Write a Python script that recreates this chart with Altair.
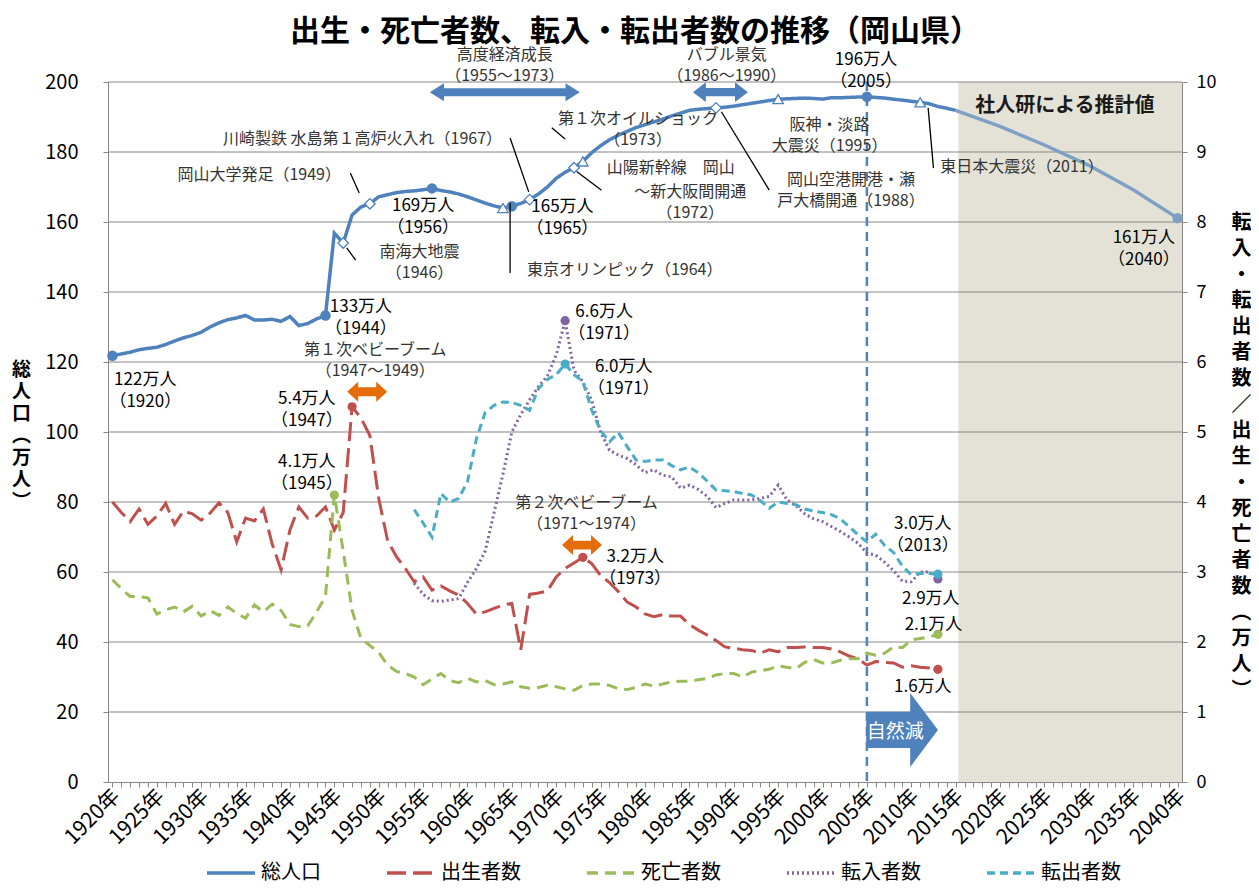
import altair as alt
import pandas as pd

FONT = "Noto Sans CJK JP"
GRAY = "#868686"

# ---------------- data ----------------
SERIES = ["総人口", "出生者数", "死亡者数", "転入者数", "転出者数"]
COLORS = ["#4F81BD", "#C0504D", "#9BBB59", "#8064A2", "#4BACC6"]
DASHES = [[1, 0], [19, 7], [11, 7], [2, 3], [8, 5]]

POP_YEARS = list(range(1920, 2016))
POP = [121.8, 122.3, 122.8, 123.5, 123.9, 124.2, 125.0, 126.0, 126.9, 127.6,
       128.5, 130.0, 131.2, 132.1, 132.6, 133.3, 132.0, 132.0, 132.2, 131.6,
       133.0, 130.4, 131.0, 132.3, 133.3, 156.8, 154.0, 162.0, 164.3, 165.2,
       167.2, 167.8, 168.4, 168.7, 168.9, 169.2, 169.6, 169.0, 168.6, 168.0,
       167.2, 166.3, 165.4, 164.6, 164.0, 164.5, 165.3, 166.4, 168.0, 170.0,
       172.5, 174.2, 175.5, 177.3, 179.8, 181.8, 183.5, 184.8, 185.9, 187.0,
       187.8, 188.6, 189.4, 190.3, 191.1, 191.9, 192.2, 192.4, 192.6, 192.8,
       193.1, 193.5, 193.9, 194.3, 194.7, 195.1, 195.2, 195.3, 195.4, 195.3,
       195.1, 195.5, 195.5, 195.6, 195.7, 195.8, 195.6, 195.4, 195.1, 194.8,
       194.5, 194.2, 193.8, 193.0, 192.5, 191.9]
PROJ_YEARS = [2015, 2020, 2025, 2030, 2035, 2040]
PROJ_POP = [191.9, 187.3, 182.0, 176.2, 169.2, 161.1]
PROJ_START = 2015.3

VITAL_YEARS = list(range(1920, 2014))
BIRTHS = [4.00, 3.85, 3.72, 3.90, 3.68, 3.80, 3.98, 3.68, 3.87, 3.83,
          3.74, 3.84, 3.99, 3.85, 3.43, 3.77, 3.73, 3.90, 3.40, 3.03,
          3.60, 3.93, 3.77, 3.80, 3.93, 3.60, 3.85, 5.36, 5.20, 4.95,
          4.05, 3.45, 3.22, 3.05, 2.86, 2.93, 2.74, 2.80, 2.73, 2.67,
          2.55, 2.40, 2.43, 2.48, 2.53, 2.55, 1.89, 2.68, 2.70, 2.73,
          2.93, 3.05, 3.13, 3.21, 3.12, 2.95, 2.85, 2.72, 2.57, 2.50,
          2.40, 2.36, 2.39, 2.37, 2.37, 2.25, 2.17, 2.10, 2.02, 1.93,
          1.91, 1.89, 1.88, 1.84, 1.89, 1.86, 1.92, 1.92, 1.93, 1.92,
          1.92, 1.90, 1.86, 1.80, 1.76, 1.67, 1.72, 1.71, 1.70, 1.64,
          1.66, 1.64, 1.63, 1.61]
DEATHS = [2.89, 2.76, 2.65, 2.65, 2.63, 2.40, 2.46, 2.50, 2.43, 2.51,
          2.37, 2.45, 2.38, 2.50, 2.41, 2.34, 2.53, 2.43, 2.54, 2.45,
          2.25, 2.22, 2.23, 2.43, 2.65, 4.10, 3.30, 2.45, 2.05, 1.95,
          1.85, 1.67, 1.58, 1.55, 1.50, 1.39, 1.47, 1.55, 1.45, 1.42,
          1.48, 1.43, 1.45, 1.39, 1.40, 1.43, 1.36, 1.34, 1.35, 1.38,
          1.36, 1.33, 1.31, 1.38, 1.40, 1.40, 1.38, 1.33, 1.32, 1.35,
          1.40, 1.37, 1.40, 1.43, 1.44, 1.44, 1.46, 1.48, 1.53, 1.55,
          1.55, 1.50, 1.57, 1.59, 1.61, 1.66, 1.64, 1.62, 1.71, 1.75,
          1.70, 1.70, 1.74, 1.76, 1.76, 1.84, 1.81, 1.84, 1.93, 1.92,
          2.03, 2.05, 2.07, 2.11]
MIG_YEARS = list(range(1954, 2014))
IN_MIG = [2.84, 2.68, 2.59, 2.58, 2.60, 2.62, 2.85, 3.05, 3.30, 3.85,
          4.40, 5.00, 5.25, 5.46, 5.65, 5.80, 6.10, 6.59, 5.88, 5.72,
          5.45, 5.00, 4.74, 4.67, 4.62, 4.53, 4.42, 4.46, 4.38, 4.36,
          4.20, 4.24, 4.18, 4.08, 3.92, 3.98, 4.03, 4.03, 4.03, 4.05,
          4.08, 4.24, 4.03, 3.95, 3.83, 3.76, 3.72, 3.65, 3.58, 3.50,
          3.41, 3.27, 3.24, 3.14, 3.02, 2.87, 2.86, 3.00, 3.00, 2.90]
OUT_MIG = [3.89, 3.70, 3.50, 4.12, 4.00, 4.05, 4.29, 4.90, 5.28, 5.38,
           5.43, 5.42, 5.38, 5.31, 5.62, 5.75, 5.82, 5.97, 5.82, 5.72,
           5.31, 5.02, 4.86, 4.99, 4.79, 4.60, 4.58, 4.60, 4.60, 4.52,
           4.46, 4.50, 4.42, 4.30, 4.17, 4.16, 4.15, 4.12, 4.10, 4.02,
           3.91, 4.00, 3.98, 3.96, 3.90, 3.87, 3.85, 3.82, 3.76, 3.65,
           3.53, 3.43, 3.54, 3.38, 3.28, 3.08, 2.96, 2.98, 2.98, 2.97]

LEFT_TICKS = list(range(0, 201, 20))
RIGHT_TICKS = list(range(0, 11))
YEAR_TICKS = list(range(1920, 2041))

POP_DOT_YEARS = [1920, 1944, 1956, 1965, 2005]
DIAMOND_YEARS = [1946, 1949, 1967, 1972, 1988]
TRIANGLE_YEARS = [1964, 1973, 1995, 2011]
PEAK_YEARS = {"出生者数": [1947, 1973, 2013], "死亡者数": [1945, 2013],
              "転入者数": [1971, 2013], "転出者数": [1971, 2013]}
VLINE_YEAR = [2005]

# annotation texts (year, value of the first line on the 総人口 scale)
LABELS_DATA = [
    ("122万人\n（1920）", 1923.7, 115.0),
    ("133万人\n（1944）", 1948.0, 135.8),
    ("169万人\n（1956）", 1955.0, 164.7),
    ("165万人\n（1965）", 1970.7, 164.4),
    ("196万人\n（2005）", 2004.9, 206.3),
    ("161万人\n（2040）", 2036.2, 155.3),
    ("5.4万人\n（1947）", 1941.9, 109.4),
    ("4.1万人\n（1945）", 1941.9, 91.5),
    ("6.6万人\n（1971）", 1975.4, 134.4),
    ("6.0万人\n（1971）", 1977.6, 118.7),
    ("3.2万人\n（1973）", 1978.9, 64.2),
    ("3.0万人\n（2013）", 2011.3, 73.7),
    ("2.9万人", 2012.2, 52.3), ("2.1万人", 2012.5, 44.9),
    ("1.6万人", 2011.3, 27.2),
]
LABELS_EVENT = [
    ("高度経済成長\n（1955～1973）", 1964.2, 207.7),
    ("バブル景気\n（1986～1990）", 1989.2, 207.7),
    ("南海大地震\n（1946）", 1954.6, 151.5),
    ("第１次ベビーブーム\n（1947～1949）", 1949.6, 123.4),
    ("第１次オイルショック\n（1973）", 1979.2, 189.4),
    ("山陽新幹線　岡山", 1982.9, 175.3),
    ("～新大阪間開通\n（1972）", 1985.1, 168.7),
    ("阪神・淡路\n大震災（1995）", 2000.8, 187.7),
    ("岡山空港開港・瀬\n戸大橋開通（1988）", 2003.2, 172.0),
    ("第２次ベビーブーム\n（1971～1974）", 1973.4, 79.6),
]
LABELS_RIGHT = [("岡山大学発足（1949）", 1945.75, 173.4),
                ("川崎製鉄 水島第１高炉火入れ（1967）", 1963.9, 183.7)]
LABELS_LEFT = [("東京オリンピック（1964）", 1966.7, 146.3),
               ("東日本大震災（2011）", 2013.25, 175.8)]
LABEL_PROJ = [("社人研による推計値", 2027.3, 193.1)]
LABEL_NAT = [("自然減", 2008.2, 14.4)]

LEADERS = [(1946.8, 174.0, 1947.8, 168.3), (1946.4, 152.6, 1947.4, 149.1),
           (1964.8, 184.0, 1966.9, 168.6), (1964.8, 165.4, 1964.8, 145.4),
           (1969.5, 186.9, 1971.0, 183.7), (1972.3, 174.4, 1975.1, 169.1),
           (1988.6, 191.5, 1994.0, 169.1), (2011.9, 192.6, 2012.5, 175.4)]

# ---------------- helpers ----------------
XS = alt.Scale(domain=[1919.5, 2040.5], nice=False, zero=False)
XAX = alt.Axis(values=YEAR_TICKS,
               labelExpr="datum.value % 5 === 0 ? datum.value + '年' : ''",
               labelAngle=315, labelAlign="right", labelBaseline="middle",
               labelFontSize=21, labelPadding=6, labelOffset=4, labelOverlap=False,
               labelFlush=False, labelColor="#000000", tickSize=5, tickColor=GRAY,
               domainColor=GRAY, grid=False, title=None)
YLS = alt.Scale(domain=[0, 200], nice=False, zero=True)
YLAX = alt.Axis(values=LEFT_TICKS, orient="left", grid=False, tickSize=5,
                tickColor=GRAY, domainColor=GRAY, labelFontSize=20, labelPadding=25,
                labelColor="#000000",
                title=["総", "人", "口", "︵", "万", "人", "︶"], titleAngle=0,
                titleX=-87, titleY=278, titleAlign="center", titleBaseline="top",
                titleFontSize=19, titleFontWeight="bold", titleLineHeight=22,
                titleColor="#000000")
YRS = alt.Scale(domain=[0, 10], nice=False, zero=True)
YRAX = alt.Axis(values=RIGHT_TICKS, orient="right", grid=False, tickSize=5,
                tickColor=GRAY, domainColor=GRAY, labelFontSize=18, labelPadding=9,
                labelColor="#000000",
                title=list("転入・転出者数／出生・死亡者数") + ["︵", "万", "人", "︶"],
                titleAngle=0, titleX=59, titleY=130, titleAlign="center",
                titleBaseline="top", titleFontSize=20, titleFontWeight="bold",
                titleLineHeight=26, titleColor="#000000")

LEG = alt.Legend(title=None, orient="none", legendX=97, legendY=765,
                 direction="horizontal", columns=5, symbolType="stroke",
                 symbolSize=2304, symbolStrokeWidth=3.5, labelFontSize=20,
                 labelOffset=4, columnPadding=59, labelColor="#000000", labelLimit=0)
COLOR = alt.Color("series:N", scale=alt.Scale(domain=SERIES, range=COLORS), legend=LEG)
DASH = alt.StrokeDash("series:N", scale=alt.Scale(domain=SERIES, range=DASHES), legend=LEG)


def X(f):
    return alt.X(f, type="quantitative", scale=XS, axis=XAX)


def YL(f):
    return alt.Y(f, type="quantitative", scale=YLS, axis=YLAX)


def YR(f):
    return alt.Y(f, type="quantitative", scale=YRS, axis=YRAX)


def tdf(rows):
    return pd.DataFrame(rows, columns=["text", "year", "val"])


def dbl_arrow(hl, hh, bh):
    a, b = -1 + hl, 1 - hl
    return (f"M -1 0 L {a} {-hh} L {a} {-bh} L {b} {-bh} L {b} {-hh} L 1 0 "
            f"L {b} {hh} L {b} {bh} L {a} {bh} L {a} {hh} Z")


# ---------------- left group (総人口) ----------------
pop_df = pd.DataFrame({"year": POP_YEARS, "value": POP, "series": "総人口"})
proj_df = pd.DataFrame({"year": PROJ_YEARS, "value": PROJ_POP})
pop_lookup = dict(zip(POP_YEARS, POP))

shade = alt.Chart(pd.DataFrame({"x1": [PROJ_START], "x2": [2040.5], "y1": [0], "y2": [200]})
                  ).mark_rect(color="#E4E2D6").encode(
    x=X("x1"), x2=alt.X2("x2"), y=YL("y1"), y2=alt.Y2("y2"))

grid = alt.Chart(pd.DataFrame({"v": LEFT_TICKS[1:]})).mark_rule(
    color=GRAY, strokeWidth=1).encode(y=YL("v"))

vline = alt.Chart(pd.DataFrame({"year": VLINE_YEAR})).mark_rule(
    color="#4F81BD", strokeDash=[9, 6], strokeWidth=2.5).encode(x=X("year"))

pop_line = alt.Chart(pop_df).mark_line(strokeWidth=3.5).encode(
    x=X("year"), y=YL("value"), color=COLOR, strokeDash=DASH)

proj_line = alt.Chart(proj_df).mark_line(strokeWidth=3.5, color="#809FC4").encode(
    x=X("year"), y=YL("value"))

dots = alt.Chart(pd.DataFrame({"year": POP_DOT_YEARS,
                               "value": [pop_lookup[y] for y in POP_DOT_YEARS]})
                 ).mark_point(shape="circle", filled=True, size=110, color="#4F81BD",
                              opacity=1).encode(x=X("year"), y=YL("value"))
proj_dot = alt.Chart(proj_df.tail(1)).mark_point(
    shape="circle", filled=True, size=110, color="#809FC4", opacity=1).encode(
    x=X("year"), y=YL("value"))
diamonds = alt.Chart(pd.DataFrame({"year": DIAMOND_YEARS,
                                   "value": [pop_lookup[y] for y in DIAMOND_YEARS]})
                     ).mark_point(shape="diamond", filled=True, size=110, fill="white",
                                  stroke="#4F81BD", strokeWidth=1.3, opacity=1).encode(
    x=X("year"), y=YL("value"))
triangles = alt.Chart(pd.DataFrame({"year": TRIANGLE_YEARS,
                                    "value": [pop_lookup[y] for y in TRIANGLE_YEARS]})
                      ).mark_point(shape="triangle-up", filled=True, size=110, fill="white",
                                   stroke="#4F81BD", strokeWidth=1.3, opacity=1).encode(
    x=X("year"), y=YL("value"))

leaders = alt.Chart(pd.DataFrame(LEADERS, columns=["x1", "y1", "x2", "y2"])).mark_rule(
    color="#000000", strokeWidth=1.3).encode(
    x=X("x1"), x2=alt.X2("x2"), y=YL("y1"), y2=alt.Y2("y2"))


def arrow(year, val, path, size, color):
    return alt.Chart(pd.DataFrame({"year": [year], "val": [val]})).mark_point(
        shape=path, size=size, filled=True, color=color, opacity=1, strokeWidth=0
    ).encode(x=X("year"), y=YL("val"))


arr1 = arrow(1964.2, 197.1, dbl_arrow(0.19, 0.12, 0.053), 22500, "#4F81BD")
arr2 = arrow(1988.5, 197.1, dbl_arrow(0.47, 0.36, 0.15), 3025, "#4F81BD")
arr3 = arrow(1948.7, 111.5, dbl_arrow(0.55, 0.5, 0.22), 1600, "#E46C0A")
arr4 = arrow(1972.9, 67.7, dbl_arrow(0.55, 0.5, 0.22), 1600, "#E46C0A")
arr5 = arrow(2008.96, 14.86,
             "M -0.97 -0.49 L 0.22 -0.49 L 0.22 -1 L 0.97 0 L 0.22 1 L 0.22 0.49 L -0.97 0.49 Z",
             5476, "#4F81BD")


def texts(rows, align, size, color, weight="normal", lh=21):
    return alt.Chart(tdf(rows)).mark_text(
        align=align, baseline="middle", fontSize=size, color=color, fontWeight=weight,
        lineBreak="\n", lineHeight=lh
    ).encode(x=X("year"), y=YL("val"), text="text:N")


t_data = texts(LABELS_DATA, "center", 17, "#000000", lh=22)
t_event = texts(LABELS_EVENT, "center", 16, "#333333", lh=21)
t_right = texts(LABELS_RIGHT, "right", 16, "#333333")
t_left = texts(LABELS_LEFT, "left", 16, "#333333")
t_proj = texts(LABEL_PROJ, "center", 20, "#1a1a1a", "bold")
t_nat = texts(LABEL_NAT, "center", 19, "#ffffff")

left = alt.layer(shade, grid, vline, pop_line, proj_line, dots, proj_dot, diamonds,
                 triangles, leaders, arr1, arr2, arr3, arr4, arr5,
                 t_data, t_event, t_right, t_left, t_proj, t_nat)

# ---------------- right group (万人) ----------------
frames = []
for name, yrs, vals in [("出生者数", VITAL_YEARS, BIRTHS), ("死亡者数", VITAL_YEARS, DEATHS),
                        ("転入者数", MIG_YEARS, IN_MIG), ("転出者数", MIG_YEARS, OUT_MIG)]:
    frames.append(pd.DataFrame({"year": yrs, "value": vals, "series": name}))
small_df = pd.concat(frames, ignore_index=True)

small_lines = alt.Chart(small_df).mark_line(strokeWidth=3).encode(
    x=X("year"), y=YR("value"), color=COLOR, strokeDash=DASH)

peak_rows = []
for name, yrs in PEAK_YEARS.items():
    sub = small_df[small_df.series == name].set_index("year")["value"]
    col = COLORS[SERIES.index(name)]
    for y in yrs:
        peak_rows.append({"year": y, "value": float(sub[y]), "col": col})
peaks = alt.Chart(pd.DataFrame(peak_rows)).mark_point(
    shape="circle", filled=True, size=85, opacity=1).encode(
    x=X("year"), y=YR("value"), fill=alt.Fill("col:N", scale=None))

right = alt.layer(small_lines, peaks)

chart = alt.layer(left, right).resolve_scale(y="independent").properties(
    width=1074, height=700,
    padding={"left": 100, "top": 74, "right": 69, "bottom": 105},
    autosize=alt.AutoSizeParams(type="none"),
    title=alt.Title("出生・死亡者数、転入・転出者数の推移（岡山県）", fontSize=30,
                    fontWeight="bold", anchor="middle", frame="group", offset=0,
                    dx=-10, dy=30, baseline="bottom", color="#000000"),
).configure(font=FONT).configure_view(stroke=None)

chart.save("out.html", embed_options={"renderer": "svg", "actions": False})
